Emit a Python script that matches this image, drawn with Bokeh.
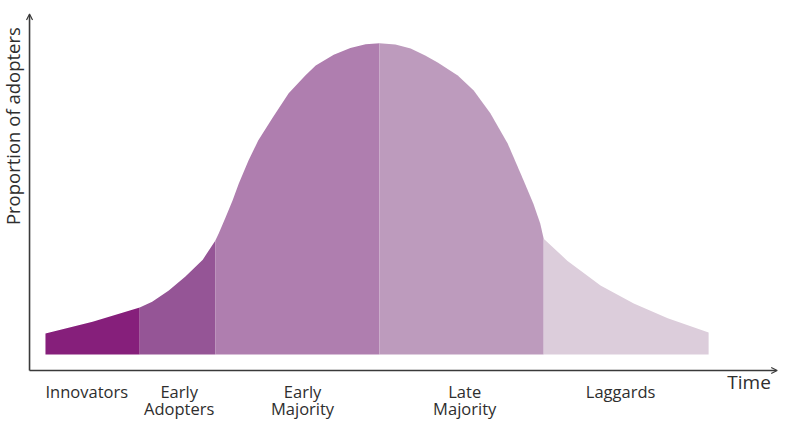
from bokeh.plotting import figure
from bokeh.models import Range1d, Arrow, OpenHead, Label, ColumnDataSource
from bokeh.embed import file_html
from bokeh.resources import INLINE

# Adoption curve, one segment per adopter category (time 0-100+, proportion 0-100)
categories = ["Innovators", "Early\nAdopters", "Early\nMajority", "Late\nMajority", "Laggards"]

innovators_x = [2.3, 9.1, 15.9]
innovators_y = [11.3, 14.9, 19.2]

early_adopters_x = [15.9, 17.7, 20.1, 22.5, 25.0, 26.8]
early_adopters_y = [19.2, 21.0, 24.4, 28.7, 33.8, 39.6]

early_majority_x = [26.8, 27.3, 28.3, 29.3, 30.2, 31.6, 33.0, 35.1, 37.4, 39.8, 41.3, 43.9, 46.3, 48.5, 50.5]
early_majority_y = [39.6, 41.8, 46.7, 51.8, 57.0, 64.0, 70.1, 77.1, 84.5, 89.9, 93.0, 96.3, 98.3, 99.5, 99.8]

late_majority_x = [50.5, 52.8, 55.0, 57.1, 58.9, 61.8, 64.1, 66.5, 69.0, 71.3, 72.7, 73.7, 74.2]
late_majority_y = [99.8, 99.4, 98.2, 96.0, 93.9, 89.9, 85.4, 78.4, 69.2, 57.9, 50.9, 44.8, 40.2]

laggards_x = [74.2, 77.6, 82.4, 87.2, 92.1, 98.0]
laggards_y = [40.2, 33.5, 25.9, 20.4, 15.9, 11.6]

baseline = 4.9

segments_x = [innovators_x, early_adopters_x, early_majority_x, late_majority_x, laggards_x]
segments_y = [innovators_y, early_adopters_y, early_majority_y, late_majority_y, laggards_y]
colors = ["#861f7b", "#955596", "#af7eaf", "#bd9bbd", "#dccddb"]

FONT = "Open Sans"
TEXT_COLOR = "#2e2e2e"
AXIS_COLOR = "#3a3a3a"

p = figure(
    width=786, height=434,
    x_range=Range1d(-4.19, 109.24), y_range=Range1d(-19.5, 112.8),
    output_backend="svg", toolbar_location=None,
    x_axis_location=None, y_axis_location=None,
    min_border=0, outline_line_color=None,
)
p.grid.visible = False
p.background_fill_color = "white"
p.border_fill_color = "white"

for xs, ys, c in zip(segments_x, segments_y, colors):
    src = ColumnDataSource(dict(x=xs, y2=ys))
    p.varea(x="x", y1=baseline, y2="y2", source=src, fill_color=c)

# axes drawn as arrows from the origin
head_kw = dict(size=6, line_width=1.2, line_color=AXIS_COLOR)
p.add_layout(Arrow(end=OpenHead(**head_kw), x_start=0, y_start=0, x_end=107.9, y_end=0,
                   line_color=AXIS_COLOR, line_width=1.6))
p.add_layout(Arrow(end=OpenHead(**head_kw), x_start=0, y_start=0, x_end=0, y_end=108.7,
                   line_color=AXIS_COLOR, line_width=1.6))

# category labels under the segments
label_x = [2.3, 21.6, 39.4, 62.8, 85.3]
label_align = ["left", "center", "center", "center", "center"]
line_y = [-6.5, -11.7]
for name, lx, align in zip(categories, label_x, label_align):
    for j, line in enumerate(name.split("\n")):
        p.add_layout(Label(x=lx, y=line_y[j], text=line, text_align=align,
                           text_baseline="alphabetic", text_font=FONT,
                           text_font_size="16.5px", text_color=TEXT_COLOR))

p.add_layout(Label(x=100.7, y=-3.5, text="Time", text_align="left",
                   text_baseline="alphabetic", text_font=FONT,
                   text_font_size="19px", text_color=TEXT_COLOR))

p.add_layout(Label(x=-2.5, y=74.5, text="Proportion of adopters", angle=1.5708,
                   text_align="center", text_baseline="alphabetic", text_font=FONT,
                   text_font_size="18.5px", text_color=TEXT_COLOR))

open("out.html", "w").write(file_html(p, INLINE))
